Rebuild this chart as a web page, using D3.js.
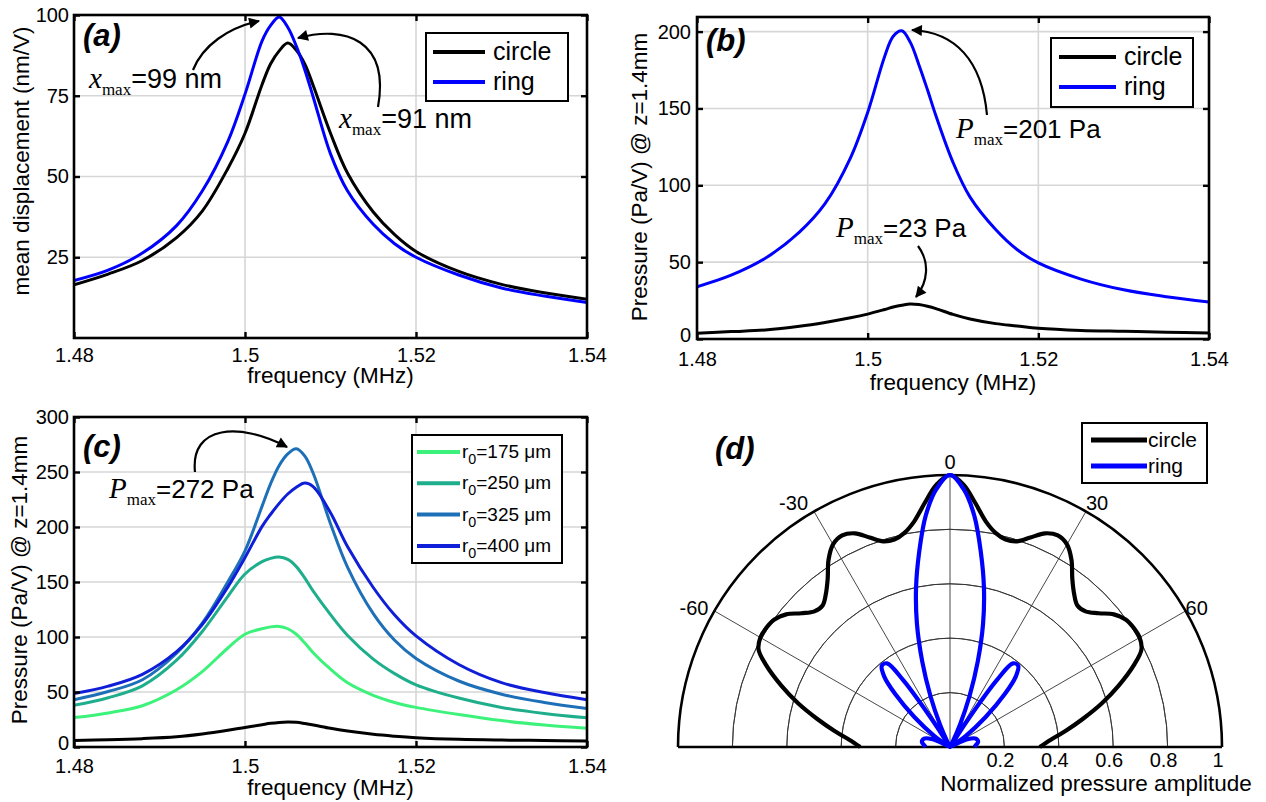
<!DOCTYPE html>
<html>
<head>
<meta charset="utf-8">
<script src="https://cdn.jsdelivr.net/npm/d3@7"></script>
<style>
  body { margin: 0; background: #fff; }
  text { font-family: "Liberation Sans", Arial, sans-serif; fill: #000; }
</style>
</head>
<body>
<svg id="fig" width="1266" height="802"></svg>
<script>
// ---- data ----
var freqs = [1.48, 1.484, 1.488, 1.492, 1.495, 1.498, 1.5, 1.502, 1.503, 1.504, 1.505,
             1.506, 1.507, 1.508, 1.51, 1.512, 1.515, 1.5175, 1.52, 1.525, 1.53, 1.535, 1.54];
var freqTicks = [1.48, 1.5, 1.52, 1.54];

// (a) mean displacement (nm/V)
var dispCircle = [16.5, 19.8, 24, 31.1, 39.3, 52.5, 63.4, 78.5, 84.9, 88.9, 91.3,
                  89.1, 84.8, 78, 63.4, 51, 39, 32, 26.8, 20.6, 16.6, 14, 12];
var dispRing   = [17.8, 21, 26.3, 34.8, 45.5, 60.9, 75.5, 92, 96.8, 99.4, 96.2,
                  90.4, 83, 74.4, 57, 45.5, 35.2, 29.2, 25, 19.5, 15.5, 13, 11];

// (b) pressure (Pa/V) @ z=1.4mm
var presCircle = [3.7, 4.8, 5.9, 8.3, 10.8, 13.8, 16.2, 19.2, 20.8, 22, 22.8,
                  22.4, 21.3, 19.8, 16, 13, 10, 8.5, 7, 5.6, 5, 4.4, 3.9];
var presRing   = [34, 41.5, 52.5, 69.5, 88, 118, 147.4, 184, 197, 200.5, 193,
                  178.5, 162.3, 145.2, 114.9, 92.3, 71.2, 58.2, 49.5, 39, 32, 27.5, 24];

// (c) pressure for ring radii r0
var radiusLabels = ["175", "250", "325", "400"];
var radiusColors = ["#3cf27a", "#1fae8c", "#1d70b8", "#0f1fd8"];
var pres175 = [26.7, 31, 37.5, 52, 68.5, 90, 102.5, 107.5, 109.2, 109.6, 107.5,
               102.5, 94.5, 85.5, 70.7, 58.4, 47, 40.5, 36, 29.5, 24, 20, 17];
var pres250 = [37.9, 44.8, 55.6, 78.9, 105, 137, 157.3, 168.5, 171.5, 172.7, 170.5,
               164, 153.5, 141.4, 120.3, 101.4, 79.9, 66.7, 56.5, 44.5, 36, 30.5, 26.5];
var pres325 = [43, 50.4, 61.1, 85.2, 112.6, 150.2, 178.3, 219, 239.5, 256, 266.5,
               271.2, 264.5, 248.4, 203, 163.3, 121.2, 97, 80.5, 60, 48, 40.5, 35];
var pres400 = [48.5, 55.3, 66.1, 86.7, 111.4, 145.6, 172.2, 200.6, 211.6, 221.5, 230,
               236.2, 240, 236.5, 213, 182, 145, 120, 101, 75, 58.5, 49.5, 43];
var presCircleC = [6, 6.6, 7.6, 9.3, 11.8, 15.2, 17.8, 20.3, 21.5, 22.3, 22.7,
                   22.4, 21.3, 20, 17, 14.5, 11.5, 9.8, 8.5, 7, 6.3, 5.9, 5.5];

// (d) normalized directivity, angle in degrees from the axis
var circleAngles = [-90, -86, -82, -78, -74, -70, -66, -63, -60, -57, -54, -51, -48, -45, -42, -39,
                    -36, -33, -30, -27, -24, -21, -18, -15, -12, -9, -6, -3, 0,
                    3, 6, 9, 12, 15, 18, 21, 24, 27, 30, 33, 36, 39, 42, 45, 48,
                    51, 54, 57, 60, 63, 66, 70, 74, 78, 82, 86, 90];
var circleAmp = [0.33, 0.37, 0.43, 0.5, 0.58, 0.66, 0.74, 0.79, 0.805, 0.805, 0.798, 0.775, 0.735, 0.705, 0.70, 0.725,
                 0.765, 0.82, 0.86, 0.873, 0.86, 0.825, 0.795, 0.79, 0.805, 0.84, 0.9, 0.965, 1.0,
                 0.965, 0.9, 0.84, 0.805, 0.79, 0.795, 0.825, 0.86, 0.873, 0.86, 0.82, 0.765, 0.725, 0.70, 0.705, 0.735,
                 0.775, 0.798, 0.805, 0.805, 0.79, 0.74, 0.66, 0.58, 0.5, 0.43, 0.37, 0.33];
var ringAngles = [-90, -86, -80, -72, -66, -61, -58, -55, -50, -46, -43, -40, -37, -35, -33,
                  -30, -27, -24, -21, -18, -15, -12, -9, -6, -3, 0,
                  3, 6, 9, 12, 15, 18, 21, 24, 27, 30,
                  33, 35, 37, 40, 43, 46, 50, 55, 58, 61, 66, 72, 80, 86, 90];
var ringAmp = [0.09, 0.095, 0.105, 0.1, 0.07, 0.01, 0.02, 0.07, 0.17, 0.28, 0.355, 0.39, 0.385, 0.3, 0.1,
               0.0, 0.02, 0.09, 0.2, 0.33, 0.47, 0.6, 0.725, 0.855, 0.95, 1.0,
               0.95, 0.855, 0.725, 0.6, 0.47, 0.33, 0.2, 0.09, 0.02, 0.0,
               0.1, 0.3, 0.385, 0.39, 0.355, 0.28, 0.17, 0.07, 0.02, 0.01, 0.07, 0.1, 0.105, 0.095, 0.09];
var polarRings = [0.2, 0.4, 0.6, 0.8];
var polarSpokes = [-60, -30, 0, 30, 60];
var polarTickLabels = [0.2, 0.4, 0.6, 0.8, 1];

var svg = d3.select('#fig');
var serif = '"Liberation Serif", "Times New Roman", serif';

var defs = svg.append('defs');
defs.append('marker')
  .attr('id', 'head')
  .attr('viewBox', '0 0 10 10')
  .attr('refX', 9).attr('refY', 5)
  .attr('markerUnits', 'userSpaceOnUse')
  .attr('markerWidth', 13).attr('markerHeight', 11)
  .attr('orient', 'auto')
  .append('path').attr('d', 'M0,0 L10,5 L0,10 z').attr('fill', '#000');

function maxLabel(g, x, y, sym, rest, fs) {
  var t = g.append('text').attr('x', x).attr('y', y).attr('font-size', fs);
  t.append('tspan').attr('font-family', serif).attr('font-style', 'italic').attr('font-size', 29).text(sym);
  t.append('tspan').attr('font-family', serif).attr('font-size', 17).attr('dy', 7).text('max');
  t.append('tspan').attr('dy', -7).text(rest);
}

function arrow(g, d) {
  g.append('path').attr('d', d)
    .attr('fill', 'none').attr('stroke', '#000').attr('stroke-width', 2.2)
    .attr('marker-end', 'url(#head)');
}

function legend(g, x0, y0, w, h, items, opt) {
  g.append('rect').attr('x', x0).attr('y', y0).attr('width', w).attr('height', h)
    .attr('fill', '#fff').attr('stroke', '#000').attr('stroke-width', 2);
  items.forEach(function (it, i) {
    var yy = y0 + opt.first + i * opt.step;
    g.append('line').attr('x1', x0 + opt.l1).attr('x2', x0 + opt.l2)
      .attr('y1', yy).attr('y2', yy)
      .attr('stroke', it.color).attr('stroke-width', opt.lw);
    var t = g.append('text').attr('x', x0 + opt.tx).attr('y', yy + opt.dy).attr('font-size', opt.fs);
    if (it.sub) {
      t.append('tspan').text('r');
      t.append('tspan').attr('font-size', opt.fs * 0.75).attr('dy', 6).text('0');
      t.append('tspan').attr('dy', -6).text('=' + it.label + ' \u03bcm');
    } else {
      t.text(it.label);
    }
  });
}

// frequency-response panel in MATLAB style
function drawPanel(p) {
  var x = d3.scaleLinear().domain([1.48, 1.54]).range([p.left, p.right]);
  var y = d3.scaleLinear().domain(p.ydom).range([p.bottom, p.top]);
  var g = svg.append('g');

  g.append('clipPath').attr('id', p.id + '-clip').append('rect')
    .attr('x', p.left).attr('y', p.top)
    .attr('width', p.right - p.left).attr('height', p.bottom - p.top);

  // grid
  g.append('g').selectAll('line').data(freqTicks.slice(1, 3)).enter().append('line')
    .attr('x1', d => x(d)).attr('x2', d => x(d))
    .attr('y1', p.top).attr('y2', p.bottom)
    .attr('stroke', '#d6d6d6').attr('stroke-width', 1.6);
  g.append('g').selectAll('line').data(p.grid).enter().append('line')
    .attr('x1', p.left).attr('x2', p.right)
    .attr('y1', d => y(d)).attr('y2', d => y(d))
    .attr('stroke', '#d6d6d6').attr('stroke-width', 1.6);

  // curves
  var line = d3.line()
    .x((d, i) => x(freqs[i]))
    .y(d => y(d))
    .curve(d3.curveCatmullRom.alpha(0.5));
  g.append('g').attr('clip-path', 'url(#' + p.id + '-clip)')
    .selectAll('path').data(p.series).enter().append('path')
    .attr('d', s => line(s.values))
    .attr('fill', 'none')
    .attr('stroke', s => s.color)
    .attr('stroke-width', 3);

  // frame
  g.append('rect')
    .attr('x', p.left).attr('y', p.top)
    .attr('width', p.right - p.left).attr('height', p.bottom - p.top)
    .attr('fill', 'none').attr('stroke', '#000').attr('stroke-width', 2.6);

  // axes, ticks pointing inwards on all four sides
  var axB = g.append('g').attr('transform', 'translate(0,' + p.bottom + ')')
    .call(d3.axisBottom(x).tickValues(freqTicks).tickSize(-6).tickPadding(p.xpad).tickFormat(d3.format('')));
  var axT = g.append('g').attr('transform', 'translate(0,' + p.top + ')')
    .call(d3.axisTop(x).tickValues(freqTicks).tickSize(-6).tickFormat(''));
  var axL = g.append('g').attr('transform', 'translate(' + p.left + ',0)')
    .call(d3.axisLeft(y).tickValues(p.yticks).tickSize(-6).tickPadding(p.ypad).tickFormat(d3.format('')));
  var axR = g.append('g').attr('transform', 'translate(' + p.right + ',0)')
    .call(d3.axisRight(y).tickValues(p.yticks).tickSize(-6).tickFormat(''));
  [axB, axT, axL, axR].forEach(function (a) {
    a.select('.domain').remove();
    a.selectAll('line').attr('stroke', '#000').attr('stroke-width', 2.4);
    a.selectAll('text')
      .attr('font-size', 20)
      .attr('font-family', '"Liberation Sans", Arial, sans-serif')
      .attr('fill', '#000');
  });
  // the zero label sits a little higher, clear of the first frequency label
  axL.selectAll('.tick text').filter(d => d === 0).attr('dy', '0.1em');

  // axis titles
  g.append('text')
    .attr('x', (p.left + p.right) / 2).attr('y', p.xlabelY)
    .attr('text-anchor', 'middle').attr('font-size', 22.5)
    .text('frequency (MHz)');
  g.append('text')
    .attr('transform', 'translate(' + p.ylabelX + ',' + p.ylabelMid + ') rotate(-90)')
    .attr('text-anchor', 'middle').attr('font-size', 22.5)
    .text(p.ylabel);

  // panel letter
  g.append('text')
    .attr('x', p.left + 9).attr('y', p.top + p.letterDy)
    .attr('font-size', 31).attr('font-weight', 'bold').attr('font-style', 'italic')
    .text(p.letter);

  return g;
}

// (a)
var ga = drawPanel({
  id: 'pa', left: 74, right: 587, top: 15, bottom: 338,
  ydom: [0, 100], yticks: [25, 50, 75, 100], grid: [25, 50, 75],
  xpad: 10, ypad: 5, xlabelY: 383, ylabel: 'mean displacement (nm/V)',
  ylabelX: 29, ylabelMid: 161, letter: '(a)', letterDy: 31,
  series: [{values: dispCircle, color: '#000'}, {values: dispRing, color: '#0000ff'}]
});
legend(ga, 426, 33, 142, 68,
  [{label: 'circle', color: '#000'}, {label: 'ring', color: '#0000ff'}],
  {first: 19, step: 30, l1: 7, l2: 59, tx: 67, dy: 8, fs: 25, lw: 4});
maxLabel(ga, 89, 88, 'x', '=99 nm', 27);
maxLabel(ga, 339, 128, 'x', '=91 nm', 27);
arrow(ga, 'M193,70 C203,45 228,28 259,21');
arrow(ga, 'M378,107 C390,40 345,25 298,38');

// (b)
var gb = drawPanel({
  id: 'pb', left: 697, right: 1209, top: 17, bottom: 339,
  ydom: [0, 209.5], yticks: [0, 50, 100, 150, 200], grid: [50, 100, 150, 200],
  xpad: 13, ypad: 6, xlabelY: 390, ylabel: 'Pressure (Pa/V) @ z=1.4mm',
  ylabelX: 647, ylabelMid: 177, letter: '(b)', letterDy: 34,
  series: [{values: presCircle, color: '#000'}, {values: presRing, color: '#0000ff'}]
});
legend(gb, 1051, 38, 142, 69,
  [{label: 'circle', color: '#000'}, {label: 'ring', color: '#0000ff'}],
  {first: 19, step: 30, l1: 8, l2: 65, tx: 73, dy: 8, fs: 25, lw: 4});
maxLabel(gb, 956, 138, 'P', '=201 Pa', 26);
maxLabel(gb, 836, 237, 'P', '=23 Pa', 26);
arrow(gb, 'M987,115 C982,60 955,32 912,30');
arrow(gb, 'M918,246 C930,262 928,282 916,297');

// (c)
var gc = drawPanel({
  id: 'pc', left: 74, right: 587, top: 417, bottom: 747,
  ydom: [0, 300], yticks: [0, 50, 100, 150, 200, 250, 300], grid: [50, 100, 150, 200, 250],
  xpad: 12, ypad: 5, xlabelY: 795, ylabel: 'Pressure (Pa/V) @ z=1.4mm',
  ylabelX: 27, ylabelMid: 580, letter: '(c)', letterDy: 40,
  series: [
    {values: presCircleC, color: '#000'},
    {values: pres175, color: radiusColors[0]},
    {values: pres250, color: radiusColors[1]},
    {values: pres325, color: radiusColors[2]},
    {values: pres400, color: radiusColors[3]}
  ]
});
legend(gc, 412, 435, 150, 128,
  radiusLabels.map((l, i) => ({label: l, color: radiusColors[i], sub: true})),
  {first: 17, step: 31.3, l1: 5, l2: 48, tx: 50, dy: 6, fs: 19, lw: 4});
maxLabel(gc, 109, 498, 'P', '=272 Pa', 26);
arrow(gc, 'M195,472 C190,425 240,422 287,447');

// (d) polar directivity
var R = 272, cx = 950, cy = 747;
var rs = d3.scaleLinear().domain([0, 1]).range([0, R]);
var rad = d => d * Math.PI / 180;
var gd = svg.append('g').attr('transform', 'translate(' + cx + ',' + cy + ')');

var ringArc = d3.arc().startAngle(-Math.PI / 2).endAngle(Math.PI / 2);
gd.selectAll('.pring').data(polarRings).enter().append('path')
  .attr('class', 'pring')
  .attr('d', v => ringArc({innerRadius: rs(v), outerRadius: rs(v)}))
  .attr('fill', 'none').attr('stroke', '#333').attr('stroke-width', 0.9);
gd.selectAll('.spoke').data(polarSpokes).enter().append('line')
  .attr('class', 'spoke')
  .attr('x1', 0).attr('y1', 0)
  .attr('x2', a => rs(1) * Math.sin(rad(a)))
  .attr('y2', a => -rs(1) * Math.cos(rad(a)))
  .attr('stroke', '#333').attr('stroke-width', 0.9);
gd.append('path')
  .attr('d', ringArc({innerRadius: rs(1), outerRadius: rs(1)}))
  .attr('fill', 'none').attr('stroke', '#000').attr('stroke-width', 2.6);
gd.append('line').attr('x1', -rs(1)).attr('x2', rs(1)).attr('y1', 0).attr('y2', 0)
  .attr('stroke', '#000').attr('stroke-width', 2.6);

var circleLine = d3.lineRadial()
  .angle((d, i) => rad(circleAngles[i]))
  .radius(d => rs(d))
  .curve(d3.curveCatmullRom);
var ringLine = d3.lineRadial()
  .angle((d, i) => rad(ringAngles[i]))
  .radius(d => rs(d))
  .curve(d3.curveCatmullRom);
gd.append('path').attr('d', circleLine(circleAmp))
  .attr('fill', 'none').attr('stroke', '#000').attr('stroke-width', 4.2);
gd.append('path').attr('d', ringLine(ringAmp))
  .attr('fill', 'none').attr('stroke', '#0000ff').attr('stroke-width', 4.2)
  .attr('stroke-linejoin', 'round');

gd.selectAll('.alabel').data(polarSpokes).enter().append('text')
  .attr('class', 'alabel')
  .attr('x', a => rs(1) * Math.sin(rad(a)) + (a < 0 ? -6 : 0))
  .attr('y', a => -rs(1) * Math.cos(rad(a)) - 6 + Math.abs(a) / 6)
  .attr('text-anchor', a => a < 0 ? 'end' : (a > 0 ? 'start' : 'middle'))
  .attr('font-size', 20)
  .text(a => a);
gd.selectAll('.rlabel').data(polarTickLabels).enter().append('text')
  .attr('class', 'rlabel')
  .attr('x', v => rs(v) - 4).attr('y', 20)
  .attr('text-anchor', 'middle').attr('font-size', 20)
  .text(v => v);
svg.append('text').attr('x', 1096).attr('y', 791)
  .attr('text-anchor', 'middle').attr('font-size', 22.5)
  .text('Normalized pressure amplitude');
svg.append('text').attr('x', 715).attr('y', 459)
  .attr('font-size', 31).attr('font-weight', 'bold').attr('font-style', 'italic')
  .text('(d)');
legend(svg, 1082, 423, 125, 60,
  [{label: 'circle', color: '#000'}, {label: 'ring', color: '#0000ff'}],
  {first: 17, step: 26, l1: 9, l2: 65, tx: 66, dy: 7, fs: 21, lw: 5});
</script>
</body>
</html>
